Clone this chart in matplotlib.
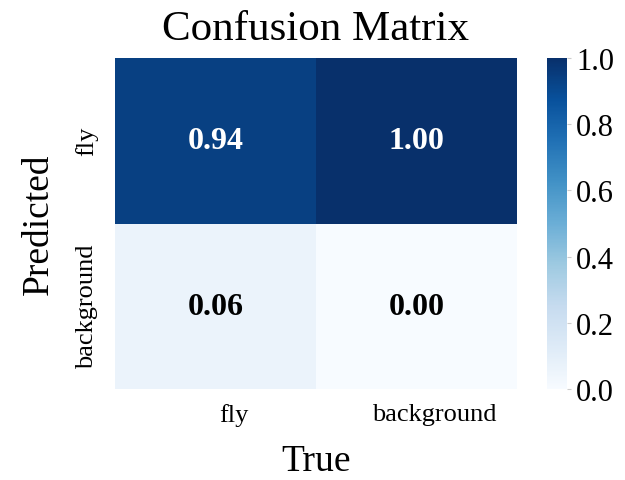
import numpy as np
import matplotlib
matplotlib.use("Agg")
import matplotlib.pyplot as plt
import matplotlib.transforms as mtransforms
import seaborn as sns

# dados da matriz de confusão
classes = ["fly", "background"]
row_fly = [0.94, 1.00]
row_background = [0.06, 0.00]

plt.rcParams['font.family'] = ['Liberation Serif', 'DejaVu Serif']

matriz = np.array([row_fly, row_background])

fig = plt.figure(figsize=(6.25, 4.81), dpi=100)
ax = fig.add_axes([115/625, 1 - 390/481, (517-115)/625, (390-59)/481])
cax = fig.add_axes([547/625, 1 - 390/481, 20/625, (390-59)/481])

sns.heatmap(matriz, ax=ax, cbar_ax=cax, cmap="Blues", vmin=0, vmax=1,
            annot=True, fmt=".2f",
            annot_kws={"size": 23, "weight": "bold"},
            xticklabels=classes, yticklabels=classes)

# texto branco nas células escuras, preto nas claras
for t, v in zip(ax.texts, matriz.ravel()):
    t.set_color("white" if v > 0.5 else "black")

ax.set_title("Confusion Matrix", fontsize=31, pad=14)
ax.set_xlabel("True", fontsize=27, labelpad=13)
ax.set_ylabel("Predicted", fontsize=27, labelpad=14)
ax.tick_params(axis='x', length=0, labelsize=19, pad=10)
ax.tick_params(axis='y', length=0, labelsize=19, pad=12)
plt.setp(ax.get_yticklabels(), rotation=90, va="center")
plt.setp(ax.get_xticklabels(), rotation=0)
# rótulos do eixo x levemente deslocados
off = mtransforms.ScaledTranslation(18/100, 0, fig.dpi_scale_trans)
for lbl in ax.get_xticklabels():
    lbl.set_transform(lbl.get_transform() + off)

cax.tick_params(labelsize=22, length=3, color="#cccccc")
cax.set_yticks([0.0, 0.2, 0.4, 0.6, 0.8, 1.0])

fig.savefig("out.png", dpi=100)
